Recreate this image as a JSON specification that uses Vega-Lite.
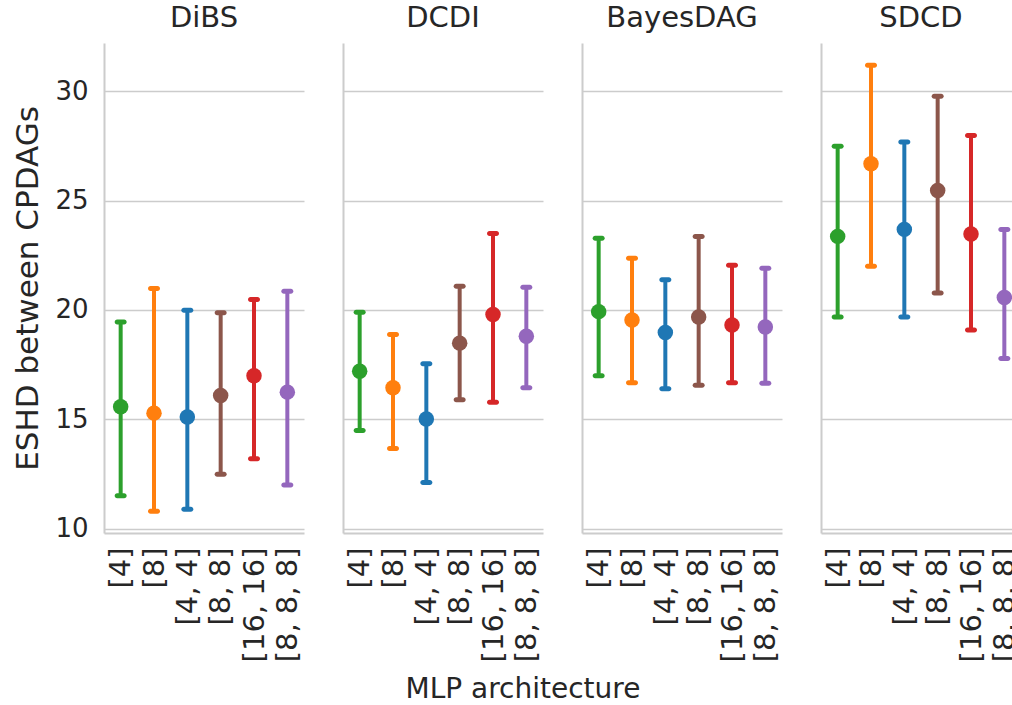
{
  "$schema": "https://vega.github.io/schema/vega-lite/v6.json",
  "background": "white",
  "padding": {"left": 12, "top": 4, "right": 0, "bottom": 2},
  "title": {"text": "MLP architecture", "orient": "bottom", "anchor": "middle", "fontSize": 28, "offset": 14, "dx": 6},
  "datasets": {
    "d": [
      {"method": "DiBS", "arch": "[4]", "mean": 15.57, "lo": 11.50, "hi": 19.45},
      {"method": "DiBS", "arch": "[8]", "mean": 15.28, "lo": 10.80, "hi": 20.98},
      {"method": "DiBS", "arch": "[4, 4]", "mean": 15.10, "lo": 10.89, "hi": 19.98},
      {"method": "DiBS", "arch": "[8, 8]", "mean": 16.09, "lo": 12.49, "hi": 19.87},
      {"method": "DiBS", "arch": "[16, 16]", "mean": 16.99, "lo": 13.19, "hi": 20.48},
      {"method": "DiBS", "arch": "[8, 8, 8]", "mean": 16.24, "lo": 12.00, "hi": 20.85},
      {"method": "DCDI", "arch": "[4]", "mean": 17.19, "lo": 14.49, "hi": 19.89},
      {"method": "DCDI", "arch": "[8]", "mean": 16.44, "lo": 13.66, "hi": 18.88},
      {"method": "DCDI", "arch": "[4, 4]", "mean": 15.01, "lo": 12.11, "hi": 17.54},
      {"method": "DCDI", "arch": "[8, 8]", "mean": 18.48, "lo": 15.89, "hi": 21.08},
      {"method": "DCDI", "arch": "[16, 16]", "mean": 19.79, "lo": 15.78, "hi": 23.49},
      {"method": "DCDI", "arch": "[8, 8, 8]", "mean": 18.79, "lo": 16.44, "hi": 21.03},
      {"method": "BayesDAG", "arch": "[4]", "mean": 19.92, "lo": 16.99, "hi": 23.27},
      {"method": "BayesDAG", "arch": "[8]", "mean": 19.54, "lo": 16.67, "hi": 22.36},
      {"method": "BayesDAG", "arch": "[4, 4]", "mean": 18.97, "lo": 16.39, "hi": 21.38},
      {"method": "BayesDAG", "arch": "[8, 8]", "mean": 19.67, "lo": 16.56, "hi": 23.35},
      {"method": "BayesDAG", "arch": "[16, 16]", "mean": 19.31, "lo": 16.67, "hi": 22.04},
      {"method": "BayesDAG", "arch": "[8, 8, 8]", "mean": 19.22, "lo": 16.65, "hi": 21.90},
      {"method": "SDCD", "arch": "[4]", "mean": 23.36, "lo": 19.67, "hi": 27.48},
      {"method": "SDCD", "arch": "[8]", "mean": 26.68, "lo": 21.99, "hi": 31.18},
      {"method": "SDCD", "arch": "[4, 4]", "mean": 23.68, "lo": 19.67, "hi": 27.67},
      {"method": "SDCD", "arch": "[8, 8]", "mean": 25.46, "lo": 20.77, "hi": 29.77},
      {"method": "SDCD", "arch": "[16, 16]", "mean": 23.47, "lo": 19.08, "hi": 27.97},
      {"method": "SDCD", "arch": "[8, 8, 8]", "mean": 20.57, "lo": 17.78, "hi": 23.68}
    ]
  },
  "data": {"name": "d"},
  "spacing": 39,
  "bounds": "flush",
  "hconcat": [
    {
      "title": "DiBS",
      "width": 200, "height": 490,
      "transform": [{"filter": "datum.method == 'DiBS'"}],
      "encoding": {
        "x": {"field": "arch", "type": "nominal", "sort": ["[4]", "[8]", "[4, 4]", "[8, 8]", "[16, 16]", "[8, 8, 8]"], "scale": {"type": "point", "padding": 0.5}, "axis": {"title": null}},
        "color": {"field": "arch", "type": "nominal", "scale": {"domain": ["[4]", "[8]", "[4, 4]", "[8, 8]", "[16, 16]", "[8, 8, 8]"], "range": ["#2ca02c", "#ff7f0e", "#1f77b4", "#8c564b", "#d62728", "#9467bd"]}, "legend": null}
      },
      "layer": [
        {"mark": {"type": "rule", "strokeWidth": 4}, "encoding": {"y": {"field": "lo", "type": "quantitative", "scale": {"domain": [9.8, 32.2], "nice": false, "zero": false}, "axis": {"title": "ESHD between CPDAGs", "values": [10, 15, 20, 25, 30]}}, "y2": {"field": "hi"}}},
        {"mark": {"type": "tick", "size": 12, "thickness": 5, "cornerRadius": 2.5, "opacity": 1}, "encoding": {"y": {"field": "lo", "type": "quantitative", "axis": {"title": "ESHD between CPDAGs", "values": [10, 15, 20, 25, 30]}}}},
        {"mark": {"type": "tick", "size": 12, "thickness": 5, "cornerRadius": 2.5, "opacity": 1}, "encoding": {"y": {"field": "hi", "type": "quantitative", "axis": {"title": "ESHD between CPDAGs", "values": [10, 15, 20, 25, 30]}}}},
        {"mark": {"type": "point", "filled": true, "size": 240, "opacity": 1}, "encoding": {"y": {"field": "mean", "type": "quantitative", "axis": {"title": "ESHD between CPDAGs", "values": [10, 15, 20, 25, 30]}}}}
      ]
    },
    {
      "title": "DCDI",
      "width": 200, "height": 490,
      "transform": [{"filter": "datum.method == 'DCDI'"}],
      "encoding": {
        "x": {"field": "arch", "type": "nominal", "sort": ["[4]", "[8]", "[4, 4]", "[8, 8]", "[16, 16]", "[8, 8, 8]"], "scale": {"type": "point", "padding": 0.5}, "axis": {"title": null}},
        "color": {"field": "arch", "type": "nominal", "scale": {"domain": ["[4]", "[8]", "[4, 4]", "[8, 8]", "[16, 16]", "[8, 8, 8]"], "range": ["#2ca02c", "#ff7f0e", "#1f77b4", "#8c564b", "#d62728", "#9467bd"]}, "legend": null}
      },
      "layer": [
        {"mark": {"type": "rule", "strokeWidth": 4}, "encoding": {"y": {"field": "lo", "type": "quantitative", "scale": {"domain": [9.8, 32.2], "nice": false, "zero": false}, "axis": {"title": null, "labels": false, "values": [10, 15, 20, 25, 30]}}, "y2": {"field": "hi"}}},
        {"mark": {"type": "tick", "size": 12, "thickness": 5, "cornerRadius": 2.5, "opacity": 1}, "encoding": {"y": {"field": "lo", "type": "quantitative", "axis": {"title": null, "labels": false, "values": [10, 15, 20, 25, 30]}}}},
        {"mark": {"type": "tick", "size": 12, "thickness": 5, "cornerRadius": 2.5, "opacity": 1}, "encoding": {"y": {"field": "hi", "type": "quantitative", "axis": {"title": null, "labels": false, "values": [10, 15, 20, 25, 30]}}}},
        {"mark": {"type": "point", "filled": true, "size": 240, "opacity": 1}, "encoding": {"y": {"field": "mean", "type": "quantitative", "axis": {"title": null, "labels": false, "values": [10, 15, 20, 25, 30]}}}}
      ]
    },
    {
      "title": "BayesDAG",
      "width": 200, "height": 490,
      "transform": [{"filter": "datum.method == 'BayesDAG'"}],
      "encoding": {
        "x": {"field": "arch", "type": "nominal", "sort": ["[4]", "[8]", "[4, 4]", "[8, 8]", "[16, 16]", "[8, 8, 8]"], "scale": {"type": "point", "padding": 0.5}, "axis": {"title": null}},
        "color": {"field": "arch", "type": "nominal", "scale": {"domain": ["[4]", "[8]", "[4, 4]", "[8, 8]", "[16, 16]", "[8, 8, 8]"], "range": ["#2ca02c", "#ff7f0e", "#1f77b4", "#8c564b", "#d62728", "#9467bd"]}, "legend": null}
      },
      "layer": [
        {"mark": {"type": "rule", "strokeWidth": 4}, "encoding": {"y": {"field": "lo", "type": "quantitative", "scale": {"domain": [9.8, 32.2], "nice": false, "zero": false}, "axis": {"title": null, "labels": false, "values": [10, 15, 20, 25, 30]}}, "y2": {"field": "hi"}}},
        {"mark": {"type": "tick", "size": 12, "thickness": 5, "cornerRadius": 2.5, "opacity": 1}, "encoding": {"y": {"field": "lo", "type": "quantitative", "axis": {"title": null, "labels": false, "values": [10, 15, 20, 25, 30]}}}},
        {"mark": {"type": "tick", "size": 12, "thickness": 5, "cornerRadius": 2.5, "opacity": 1}, "encoding": {"y": {"field": "hi", "type": "quantitative", "axis": {"title": null, "labels": false, "values": [10, 15, 20, 25, 30]}}}},
        {"mark": {"type": "point", "filled": true, "size": 240, "opacity": 1}, "encoding": {"y": {"field": "mean", "type": "quantitative", "axis": {"title": null, "labels": false, "values": [10, 15, 20, 25, 30]}}}}
      ]
    },
    {
      "title": "SDCD",
      "width": 200, "height": 490,
      "transform": [{"filter": "datum.method == 'SDCD'"}],
      "encoding": {
        "x": {"field": "arch", "type": "nominal", "sort": ["[4]", "[8]", "[4, 4]", "[8, 8]", "[16, 16]", "[8, 8, 8]"], "scale": {"type": "point", "padding": 0.5}, "axis": {"title": null}},
        "color": {"field": "arch", "type": "nominal", "scale": {"domain": ["[4]", "[8]", "[4, 4]", "[8, 8]", "[16, 16]", "[8, 8, 8]"], "range": ["#2ca02c", "#ff7f0e", "#1f77b4", "#8c564b", "#d62728", "#9467bd"]}, "legend": null}
      },
      "layer": [
        {"mark": {"type": "rule", "strokeWidth": 4}, "encoding": {"y": {"field": "lo", "type": "quantitative", "scale": {"domain": [9.8, 32.2], "nice": false, "zero": false}, "axis": {"title": null, "labels": false, "values": [10, 15, 20, 25, 30]}}, "y2": {"field": "hi"}}},
        {"mark": {"type": "tick", "size": 12, "thickness": 5, "cornerRadius": 2.5, "opacity": 1}, "encoding": {"y": {"field": "lo", "type": "quantitative", "axis": {"title": null, "labels": false, "values": [10, 15, 20, 25, 30]}}}},
        {"mark": {"type": "tick", "size": 12, "thickness": 5, "cornerRadius": 2.5, "opacity": 1}, "encoding": {"y": {"field": "hi", "type": "quantitative", "axis": {"title": null, "labels": false, "values": [10, 15, 20, 25, 30]}}}},
        {"mark": {"type": "point", "filled": true, "size": 240, "opacity": 1}, "encoding": {"y": {"field": "mean", "type": "quantitative", "axis": {"title": null, "labels": false, "values": [10, 15, 20, 25, 30]}}}}
      ]
    }
  ],
  "config": {
    "view": {"stroke": null},
    "font": "DejaVu Sans",
    "axis": {"domainColor": "#cccccc", "domainWidth": 2, "gridColor": "#cccccc", "gridWidth": 1.5, "ticks": false, "labelColor": "#262626", "titleColor": "#262626", "labelFont": "DejaVu Sans", "titleFont": "DejaVu Sans", "labelFontSize": 26, "titleFontSize": 31, "titleFontWeight": "normal"},
    "axisX": {"grid": false, "labelAngle": -90, "labelPadding": 14, "labelFontSize": 29},
    "axisY": {"grid": true, "labelPadding": 16, "titlePadding": 10},
    "title": {"fontSize": 29, "fontWeight": "normal", "color": "#262626", "font": "DejaVu Sans", "offset": 10}
  }
}
